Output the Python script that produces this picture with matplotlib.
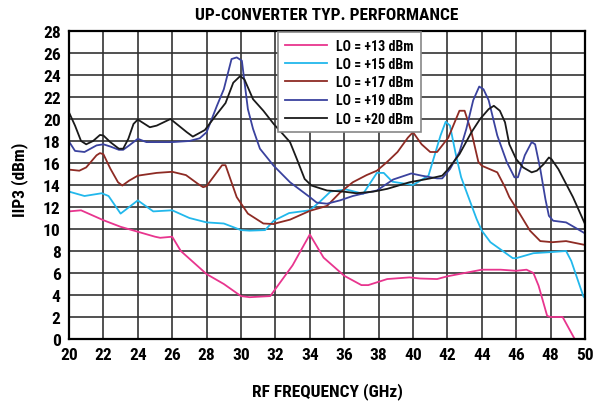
import matplotlib.pyplot as plt
import numpy as np

plt.rcParams['font.family'] = ['Roboto Condensed', 'DejaVu Sans']
plt.rcParams['font.weight'] = 'bold'

# datos (GHz, dBm)
f_13 = [20, 20.7, 22, 23, 24, 25, 25.3, 26, 26.5, 28, 29, 30, 30.5, 31.7, 33, 34, 34.8, 36, 37, 37.4,
        38.5, 39.8, 40.4, 41.4, 42, 44, 45.1, 46, 46.6, 47, 47.3, 47.8, 48, 48.7, 49.4]
iip3_13 = [11.6, 11.7, 10.8, 10.2, 9.75, 9.3, 9.2, 9.3, 8.0, 5.9, 5.0, 3.9, 3.8, 3.9, 6.7, 9.5, 7.4, 5.75, 4.9, 4.9,
           5.45, 5.6, 5.5, 5.45, 5.7, 6.3, 6.3, 6.2, 6.3, 6.0, 4.85, 2.1, 2.0, 2.0, 0.0]

f_15 = [20, 20.9, 21.9, 22.3, 23, 24, 24.9, 26, 27, 28, 29, 30, 30.5, 31.4, 31.9, 32.8, 34, 34.6, 35.2,
        36.1, 37.1, 37.9, 38.3, 38.8, 40, 40.9, 41.6, 41.9, 42.15, 42.5, 42.8, 43.2, 43.7, 44, 44.5,
        45.8, 46, 47, 48, 48.9, 49.2, 49.9, 50]
iip3_15 = [13.4, 13.0, 13.25, 13.0, 11.4, 12.6, 11.6, 11.7, 11.0, 10.6, 10.5, 9.9, 9.85, 9.9, 10.75, 11.45, 11.7, 12.5, 13.4,
           13.6, 13.2, 15.1, 15.1, 14.3, 14.0, 14.85, 18.5, 19.75, 19.4, 16.7, 14.7, 13.0, 10.9, 9.85, 8.8,
           7.35, 7.35, 7.8, 7.9, 8.0, 7.1, 3.9, 3.7]

f_17 = [20, 20.6, 21, 21.6, 21.8, 22, 22.4, 22.85, 23.1, 23.5, 24, 25.1, 26, 26.8, 27.5, 27.8, 28, 28.9,
        29.1, 29.75, 30.4, 31.3, 31.9, 32.1, 32.85, 34, 35, 35.75, 36.5, 37.3, 37.9, 38.5, 39.1, 39.7,
        40, 40.5, 41, 41.4, 42.05, 42.7, 43.0, 43.4, 43.8, 44, 44.9, 45.35, 45.6, 46.2, 46.8, 47.4,
        48.1, 48.9, 50]
iip3_17 = [15.4, 15.3, 15.6, 16.7, 16.9, 16.8, 15.5, 14.25, 13.95, 14.4, 14.85, 15.1, 15.2, 14.9, 14.1, 13.8, 13.9, 15.8,
           15.8, 12.9, 11.4, 10.5, 10.45, 10.55, 10.85, 11.65, 12.1, 13.3, 14.25, 14.9, 15.3, 16.1, 17.0, 18.3,
           18.8, 17.7, 17.0, 17.0, 18.3, 20.75, 20.75, 18.8, 16.1, 15.75, 15.15, 13.8, 12.9, 11.4, 9.85, 8.9,
           8.8, 8.9, 8.55]

f_19 = [20, 20.35, 20.9, 21.6, 22, 22.4, 22.9, 23.15, 23.5, 24, 24.5, 26, 27, 27.6, 28, 28.6, 29, 29.45,
        29.75, 30.05, 30.4, 30.7, 31.1, 31.9, 32.85, 34, 34.4, 35, 35.75, 36.5, 37.3, 37.9, 38.85, 39.9,
        40.5, 41.4, 41.7, 42.15, 42.7, 43.1, 43.5, 43.85, 44.1, 44.4, 44.9, 45.45, 45.9, 46.1, 46.5,
        46.9, 47.1, 47.4, 47.7, 47.9, 48.15, 48.9, 49.4, 50]
iip3_19 = [17.95, 17.1, 17.0, 17.6, 17.7, 17.5, 17.2, 17.2, 17.6, 18.2, 17.9, 17.9, 18.0, 18.25, 18.8, 21.2, 22.7, 25.45,
           25.6, 25.3, 20.9, 19.1, 17.3, 15.75, 14.25, 12.9, 12.4, 12.3, 12.6, 13.0, 13.3, 13.5, 14.5, 15.05,
           14.85, 14.6, 14.6, 15.45, 17.0, 19.1, 21.7, 22.95, 22.7, 21.7, 18.5, 16.1, 14.7, 14.7, 16.7,
           17.9, 17.7, 15.45, 12.7, 11.2, 10.75, 10.6, 10.15, 9.6]

f_20 = [20, 20.35, 20.7, 21, 21.4, 21.8, 22, 22.4, 22.9, 23.15, 23.45, 23.75, 24, 24.7, 25.1, 25.9, 26.85,
        27.2, 27.9, 28.6, 29.1, 29.55, 29.95, 30.2, 30.7, 31.3, 31.9, 32.45, 32.85, 33.25, 33.7, 34.1,
        35, 35.95, 36.7, 37.7, 38.5, 39.8, 41, 41.7, 42.05, 42.7, 43.4, 43.9, 44.4, 44.7, 45.05, 45.35,
        45.6, 46.0, 46.4, 46.9, 47.2, 47.6, 47.9, 48.05, 48.45, 48.9, 49.3, 50]
iip3_20 = [20.6, 19.4, 18.0, 17.7, 18.0, 18.55, 18.5, 17.9, 17.3, 17.3, 18.2, 19.55, 19.95, 19.25, 19.4, 20.0, 18.8,
           18.4, 19.0, 20.45, 21.45, 23.3, 23.9, 23.6, 21.8, 20.75, 19.55, 18.6, 17.9, 16.35, 14.55, 13.95,
           13.5, 13.4, 13.25, 13.4, 13.65, 14.25, 14.6, 14.85, 15.45, 16.8, 18.8, 20.0, 20.9, 21.2, 20.75, 19.7,
           17.7, 16.35, 15.6, 15.15, 15.3, 15.9, 16.5, 16.35, 15.45, 14.1, 12.9, 10.45]

fig = plt.figure(figsize=(6.04, 4.06), dpi=100)
ax = fig.add_axes([69 / 604, 1 - 340 / 406, 516 / 604, 308 / 406])

ax.plot(f_13, iip3_13, color='#E8358E', lw=1.3, label='LO = +13 dBm')
ax.plot(f_15, iip3_15, color='#22B8EC', lw=1.3, label='LO = +15 dBm')
ax.plot(f_17, iip3_17, color='#8E2B24', lw=1.3, label='LO = +17 dBm')
ax.plot(f_19, iip3_19, color='#3A429E', lw=1.3, label='LO = +19 dBm')
ax.plot(f_20, iip3_20, color='#1A1A1A', lw=1.3, label='LO = +20 dBm')

# limites
ax.set_xlim(20, 50)
ax.set_ylim(0, 28)
ax.set_xticks(np.arange(20, 51, 2))
ax.set_yticks(np.arange(0, 29, 2))
ax.tick_params(length=0, labelsize=12.5, pad=6)
ax.grid(color='#333333', lw=1.2)
ax.set_axisbelow(True)
for s in ax.spines.values():
    s.set_linewidth(1.6)

ax.set_xlabel('RF FREQUENCY (GHz)', fontsize=12.5, fontweight='bold', labelpad=14)
ax.set_ylabel('IIP3 (dBm)', fontsize=12.5, fontweight='bold')
ax.yaxis.set_label_coords(-0.08, 0.52)
ax.set_title('UP-CONVERTER TYP. PERFORMANCE', fontsize=12.5, fontweight='bold', pad=9)

leg = ax.legend(loc='upper left', bbox_to_anchor=(0.405, 0.997), fontsize=10, fancybox=False,
                framealpha=1, edgecolor='#888888', handlelength=3.0, labelspacing=0.3,
                borderpad=0.5, handletextpad=0.7, borderaxespad=0)
leg.get_frame().set_linewidth(1.2)

plt.savefig('out.png', dpi=100)
